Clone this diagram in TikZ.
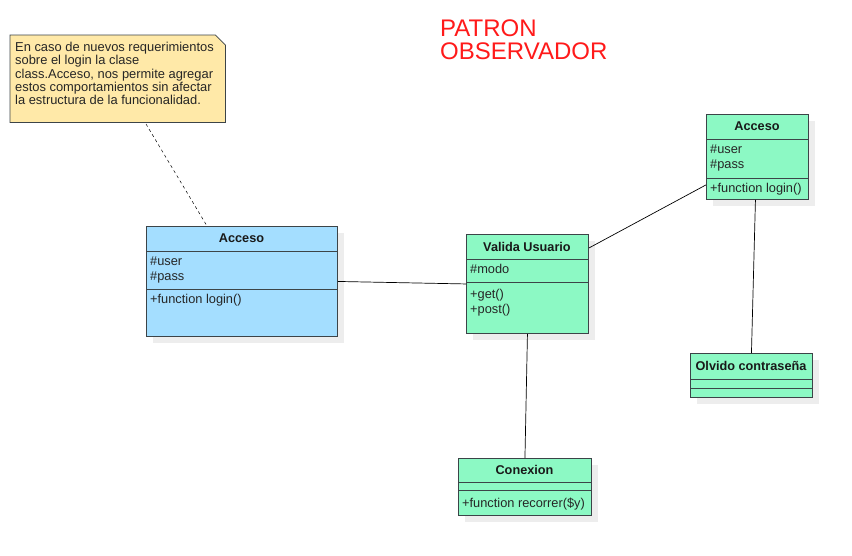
\documentclass[tikz,border=0pt]{standalone}
\usepackage{fontspec}
\setmainfont{Liberation Sans}
\usetikzlibrary{positioning,shadows}

\definecolor{clsblue}{HTML}{A4DEFF}
\definecolor{clsgreen}{HTML}{8CF9C4}
\definecolor{notefill}{HTML}{FFE9A8}
\definecolor{clsline}{HTML}{3C4448}
\definecolor{titlered}{HTML}{FF1A1A}

\tikzset{
  cls/.style={draw=clsline, line width=0.9pt, anchor=north west, inner sep=0pt,
    drop shadow={shadow xshift=7pt, shadow yshift=-7pt, fill=black!7, opacity=1}},
  sep/.style={draw=clsline, line width=0.9pt},
  hdr/.style={font=\fontsize{12.7}{15}\selectfont\bfseries, inner sep=0pt, text=black!90},
  mbr/.style={font=\fontsize{12.8}{15}\selectfont, inner sep=0pt, anchor=north west,
    align=left, text=black!85},
  link/.style={draw=black, line width=0.7pt},
}

\begin{document}
\begin{tikzpicture}[x=1pt, y=-1pt]
    \useasboundingbox[fill=white] (0,0) rectangle (852,555);

    % titulo
    \node(title) at (440,20) [anchor=north west, inner sep=0pt, align=left, text=titlered,
        font=\fontsize{24}{23}\selectfont] {PATRON\\OBSERVADOR};

    % nota
    \node(note) at (10,35) [anchor=north west, inner sep=0pt, minimum width=215pt, minimum height=87pt] {};
    \draw[draw=clsline, line width=0.8pt, fill=notefill] (note.south west) -- (note.north west)
        -- ([xshift=-10pt]note.north east) -- ([yshift=-10pt]note.north east) -- (note.south east) -- cycle;
    \node(notetext) at (15,42) [anchor=north west, inner sep=0pt, align=left, text=black!85,
        font=\fontsize{12.9}{13.3}\selectfont]
        {En caso de nuevos requerimientos\\sobre el login la clase\\class.Acceso, nos permite agregar\\estos comportamientos sin afectar\\la estructura de la funcionalidad.};
    \coordinate(notefoot) at (146,124);

    % clase Acceso (azul)
    \node(accL) at (146,226) [cls, fill=clsblue, minimum width=191pt, minimum height=110pt] {};
    \draw[sep] (146,251) -- (337,251);
    \draw[sep] (146,289) -- (337,289);
    \node[hdr] at (241.5,238.5) {Acceso};
    \node[mbr] at (150,256.5) {\#user\\\#pass};
    \node[mbr] at (150,294)   {+function login()};

    % clase Valida Usuario
    \node(valida) at (466,234) [cls, fill=clsgreen, minimum width=122pt, minimum height=99pt] {};
    \draw[sep] (466,259) -- (588,259);
    \draw[sep] (466,282) -- (588,282);
    \node[hdr] at (527,246.5) {Valida Usuario};
    \node[mbr] at (470,264.5) {\#modo};
    \node[mbr] at (470,289.5) {+get()\\+post()};

    % clase Acceso (verde)
    \node(accR) at (706,114) [cls, fill=clsgreen, minimum width=102pt, minimum height=85pt] {};
    \draw[sep] (706,139) -- (808,139);
    \draw[sep] (706,178) -- (808,178);
    \node[hdr] at (757,126.5) {Acceso};
    \node[mbr] at (710,145) {\#user\\\#pass};
    \node[mbr] at (710,183) {+function login()};

    % clase Olvido contrasena
    \node(olvido) at (690,353) [cls, fill=clsgreen, minimum width=122pt, minimum height=44pt] {};
    \draw[sep] (690,379) -- (812,379);
    \draw[sep] (690,388) -- (812,388);
    \node[hdr] at (751,366) {Olvido contraseña};

    % clase Conexion
    \node(conexion) at (458,458) [cls, fill=clsgreen, minimum width=133pt, minimum height=57pt] {};
    \draw[sep] (458,482) -- (591,482);
    \draw[sep] (458,490) -- (591,490);
    \node[hdr] at (524.5,470) {Conexion};
    \node[mbr] at (462,498) {+function recorrer(\$y)};

    % relaciones
    \draw[link, dashed, line width=0.5pt] (notefoot) -- ([xshift=61pt]accL.north west);
    \draw[link] (accL.east) -- (valida.west);
    \draw[link] ([yshift=-14pt]valida.north east) -- ([yshift=15pt]accR.south west);
    \draw[link] ([xshift=-2pt]accR.south) -- (olvido.north);
    \draw[link] (valida.south) -- (conexion.north);
\end{tikzpicture}
\end{document}
